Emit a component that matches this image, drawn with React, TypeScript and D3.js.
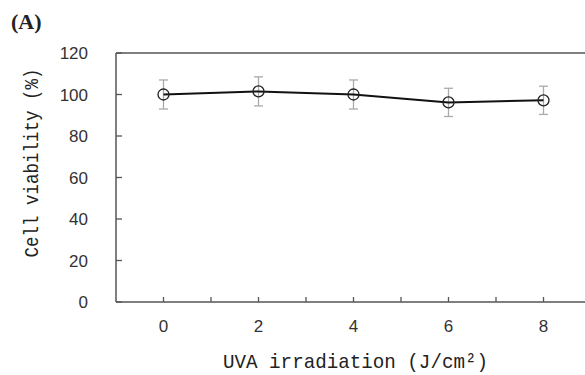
import React from "react";
import * as d3 from "d3";

const doses = [0, 2, 4, 6, 8];
const viability = [100, 101.5, 100, 96.2, 97.2];
const errors = [7, 7, 7, 6.8, 6.8];
const xTicks = [0, 1, 2, 3, 4, 5, 6, 7, 8];
const xTickLabels = [0, 2, 4, 6, 8];
const yTicks = [0, 20, 40, 60, 80, 100, 120];

export default function App() {
  const W = 585, H = 375;
  const x = d3.scaleLinear().domain([-1, 9]).range([116, 591]);
  const y = d3.scaleLinear().domain([0, 120]).range([302, 53]);
  const data = doses.map((d, i) => ({ d, v: viability[i], e: errors[i] }));
  const line = d3.line<{ d: number; v: number }>().x(p => x(p.d)).y(p => y(p.v));
  const axisColor = "#555";
  const sans = "'Liberation Sans', Arial, sans-serif";
  const mono = "'Liberation Mono', 'DejaVu Sans Mono', monospace";
  return (
    <svg width={W} height={H} style={{ position: "absolute", left: 0, top: 0, background: "#fff" }}>
      <text x={11} y={29} fontFamily="'Liberation Serif', serif" fontWeight="bold" fontSize={22} fill="#222">(A)</text>
      {/* axes */}
      <line x1={116} x2={585} y1={y(120)} y2={y(120)} stroke={axisColor} strokeWidth={1.5} />
      <line x1={116} x2={585} y1={y(0)} y2={y(0)} stroke={axisColor} strokeWidth={1.5} />
      <line x1={116} x2={116} y1={y(120)} y2={y(0)} stroke={axisColor} strokeWidth={1.5} />
      {yTicks.map(t => (
        <g key={"y" + t}>
          <line x1={116} x2={122} y1={y(t)} y2={y(t)} stroke={axisColor} strokeWidth={1.3} />
          <text x={88} y={y(t)} dy="0.36em" textAnchor="end" fontFamily={sans} fontSize={17} fill="#333">{t}</text>
        </g>
      ))}
      {xTicks.map(t => (
        <line key={"xt" + t} x1={x(t)} x2={x(t)} y1={y(0)} y2={y(0) - 5} stroke={axisColor} strokeWidth={1.3} />
      ))}
      {xTickLabels.map(t => (
        <text key={"xl" + t} x={x(t)} y={332} textAnchor="middle" fontFamily={sans} fontSize={17} fill="#333">{t}</text>
      ))}
      {/* error bars */}
      {data.map(p => (
        <g key={"e" + p.d} stroke="#aaa" strokeWidth={1.3}>
          <line x1={x(p.d)} x2={x(p.d)} y1={y(p.v + p.e)} y2={y(p.v - p.e)} />
          <line x1={x(p.d) - 4.5} x2={x(p.d) + 4.5} y1={y(p.v + p.e)} y2={y(p.v + p.e)} />
          <line x1={x(p.d) - 4.5} x2={x(p.d) + 4.5} y1={y(p.v - p.e)} y2={y(p.v - p.e)} />
        </g>
      ))}
      <path d={line(data) || ""} fill="none" stroke="#111" strokeWidth={2} />
      {data.map(p => (
        <circle key={"c" + p.d} cx={x(p.d)} cy={y(p.v)} r={5.5} fill="none" stroke="#222" strokeWidth={1.3} />
      ))}
      <text x={223} y={368} fontFamily={mono} fontSize={21} textLength={265} lengthAdjust="spacingAndGlyphs" fill="#222">UVA irradiation (J/cm²)</text>
      <text transform={`translate(38,${163}) rotate(-90)`} textAnchor="middle" fontFamily={mono} fontSize={21} textLength={189} lengthAdjust="spacingAndGlyphs" fill="#222">Cell viability (%)</text>
    </svg>
  );
}
